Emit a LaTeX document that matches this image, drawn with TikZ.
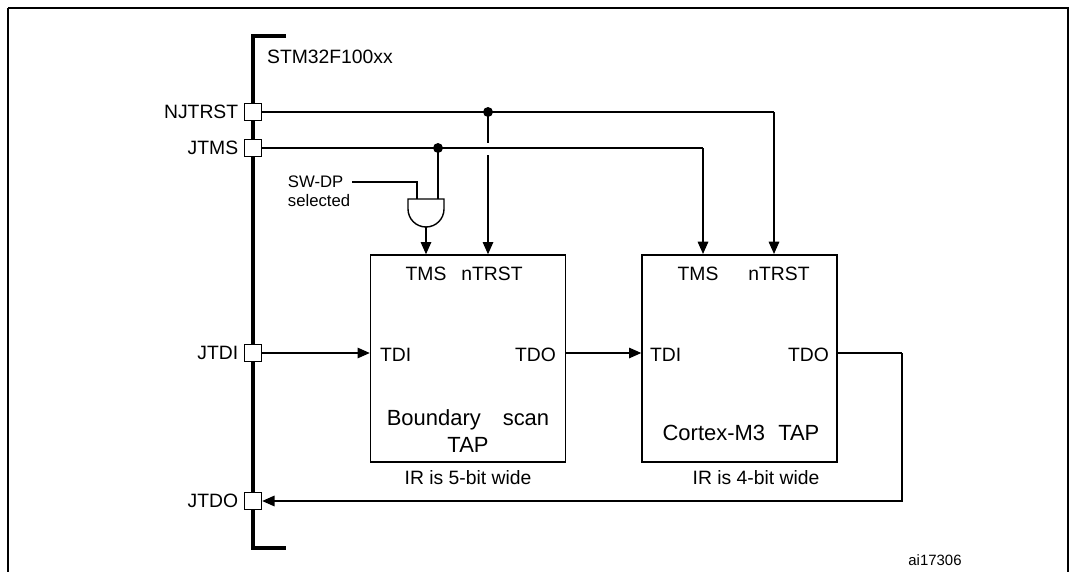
\documentclass[tikz,border=0pt]{standalone}
\usepackage{fontspec}
\setmainfont{Liberation Sans}
\usetikzlibrary{calc}
\usetikzlibrary{arrows.meta}
\tikzset{
  pin/.style = {draw=black, thick, fill=white, minimum size=17*0.02cm, inner sep=0pt},
  tap/.style = {draw=black, thick, minimum width=195*0.02cm, minimum height=207*0.02cm, inner sep=0pt},
  link/.style = {color=#1, thick},
  vec/.style = {color=#1, thick, -{Triangle[length=7pt,width=6pt]}},
  bus/.style = {color=#1, line width=2.2pt},
  junction/.style = {circle, fill=black, inner sep=2pt},
  lbl/.style = {font=\fontsize{11}{13}\selectfont, inner sep=1pt},
  small/.style = {font=\fontsize{9.5}{11}\selectfont, inner sep=1pt, align=left},
  big/.style = {font=\fontsize{12.5}{15}\selectfont, inner sep=1pt, align=center}
}

\begin{document}
\begin{tikzpicture}[x=0.02cm, y=-0.02cm]

    \useasboundingbox (0,0) rectangle (1077,571);

    % Frame
    \draw[link={black}] (8,8) -- (1068,8) -- (1068,580);
    \draw[link={black}] (8,8) -- (8,580);

    % Device bus
    \draw[bus={black}] (286,36) -- (253,36) -- (253,548) -- (286,548);
    \node[lbl, anchor=west] (dev) at (265,57) {STM32F100xx};

    % Pins
    \node[pin] (njtrst) at (253,112) {};
    \node[pin] (jtms) at (253,148) {};
    \node[pin] (jtdi) at (253,353) {};
    \node[pin] (jtdo) at (253,501) {};
    \node[lbl, anchor=east] at ([xshift=-2pt]njtrst.west) {NJTRST};
    \node[lbl, anchor=east] at ([xshift=-2pt]jtms.west) {JTMS};
    \node[lbl, anchor=east] at ([xshift=-2pt]jtdi.west) {JTDI};
    \node[lbl, anchor=east] at ([xshift=-2pt]jtdo.west) {JTDO};

    % TAP blocks
    \node[tap] (bscan) at (468,358.5) {};
    \node[tap] (cortex) at (739.5,358.5) {};

    \node[lbl] (tms1) at (426,274) {TMS};
    \node[lbl] (ntrst1) at (492,274) {nTRST};
    \node[lbl, anchor=west] (tdi1) at (378,355) {TDI};
    \node[lbl, anchor=east] (tdo1) at (558,355) {TDO};
    \node[big] (name1) at (468,431) {Boundary\hspace{1em}scan\\TAP};
    \node[lbl] (ir1) at (468,478) {IR is 5-bit wide};

    \node[lbl] (tms2) at (698,274) {TMS};
    \node[lbl] (ntrst2) at (779,274) {nTRST};
    \node[lbl, anchor=west] (tdi2) at (648,355) {TDI};
    \node[lbl, anchor=east] (tdo2) at (831,355) {TDO};
    \node[big] (name2) at (741,433) {Cortex-M3\hspace{0.6em}TAP};
    \node[lbl] (ir2) at (756,478) {IR is 4-bit wide};

    % Coordinates
    \coordinate (J1) at (488,112);
    \coordinate (J2) at (438,148);
    \coordinate (G) at (426,227);
    \coordinate (R) at (902,353);

    % Gate
    \draw[link={black}, fill=white] (408,199) -- (444,199) -- (444,209)
        arc[start angle=0, end angle=180, radius=18] -- cycle;
    \node[small] (swdp) at (319,191) {SW-DP\\selected};
    \draw[link={black}] (352,182) -- (417,182) -- (417,199);
    \draw[link={black}] (J2) -- (438,199);
    \draw[vec={black}] (G) -- (G |- bscan.north);

    % Nets
    \draw[link={black}] (njtrst.east) -- (774,112);
    \draw[vec={black}] (774,112) -- (774,254);
    \draw[link={black}] (jtms.east) -- (703,148);
    \draw[vec={black}] (703,148) -- (703,254);
    \draw[link={black}] (J1) -- (488,143);
    \draw[vec={black}] (488,155) -- (J1 |- bscan.north);
    \node[junction] at (J1) {};
    \node[junction] at (J2) {};

    \draw[vec={black}] (jtdi.east) -- (bscan.west |- jtdi);
    \draw[vec={black}] (bscan.east |- jtdi) -- (cortex.west |- jtdi);
    \draw[link={black}] (cortex.east |- jtdi) -- (R);
    \draw[vec={black}] (R) -- (R |- jtdo) -- (jtdo.east);

    % Labels
    \node[font=\fontsize{8.5}{10}\selectfont] (code) at (935,560) {ai17306};

\end{tikzpicture}
\end{document}
